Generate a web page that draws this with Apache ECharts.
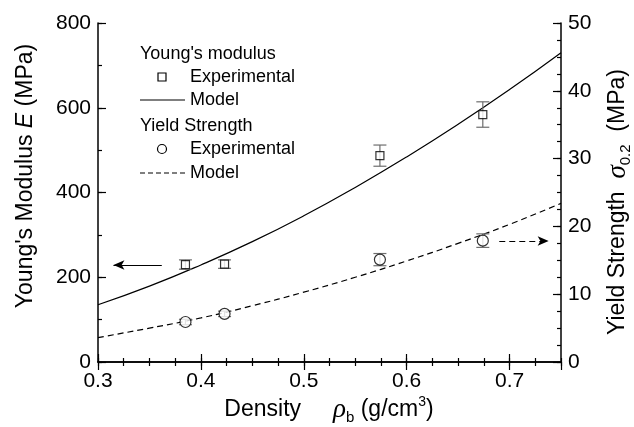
<!DOCTYPE html>
<html>
<head>
<meta charset="utf-8">
<script src="https://cdn.jsdelivr.net/npm/echarts@6/dist/echarts.min.js"></script>
<style>
html,body{margin:0;padding:0;background:#fff;}
#chart{width:634px;height:427px;}
</style>
</head>
<body>
<div id="chart"></div>
<script>
// ---- data ----
const rhoExp = [0.385, 0.423, 0.574, 0.674];
const eExp = [230, 231, 487, 584];
const eErr = [11, 10, 25, 30];
const sigmaExp = [5.9, 7.1, 15.1, 17.9];
const sigmaErr = [0.4, 0.4, 0.9, 1.0];

const rhoModel = [0.30, 0.35, 0.40, 0.45, 0.50, 0.55, 0.60, 0.65, 0.70, 0.75];
const eModel = [135, 179, 229, 284, 345, 412, 484, 561, 643, 730];
const sigmaModel = [3.6, 5.0, 6.5, 8.3, 10.3, 12.5, 14.9, 17.5, 20.3, 23.4];

const arrowE = [[0.362, 229], [0.315, 229]];
const arrowSigma = [[0.690, 17.85], [0.738, 17.85]];

const xTicks = ['0.3', '0.4', '0.5', '0.6', '0.7'];
const eTicks = ['0', '200', '400', '600', '800'];
const sigmaTicks = ['0', '10', '20', '30', '40', '50'];

// ---- chart ----
const FONT = '"Liberation Sans", Arial, Helvetica, sans-serif';
const SERIF = '"Liberation Serif", "DejaVu Serif", serif';
const chart = echarts.init(document.getElementById('chart'), null, {renderer: 'canvas'});

const gridRect = {left: 98, right: 73, top: 23, bottom: 65};
const lineAxis = {show: true, lineStyle: {color: '#000', width: 1.5}};
const lbl = {color: '#000', fontSize: 21, fontFamily: FONT};

function pairs(xs, ys) { return xs.map((x, i) => [x, ys[i]]); }
function triples(xs, ys, es) { return xs.map((x, i) => [x, ys[i], es[i]]); }

function errRender(params, api) {
  const x = api.value(0), y = api.value(1), e = api.value(2);
  const t = api.coord([x, y + e]);
  const b = api.coord([x, y - e]);
  const hw = 6.5;
  const st = {stroke: '#6e6e6e', lineWidth: 1.2};
  return {type: 'group', children: [
    {type: 'line', shape: {x1: t[0], y1: t[1], x2: b[0], y2: b[1]}, style: st},
    {type: 'line', shape: {x1: t[0] - hw, y1: t[1], x2: t[0] + hw, y2: t[1]}, style: st},
    {type: 'line', shape: {x1: b[0] - hw, y1: b[1], x2: b[0] + hw, y2: b[1]}, style: st}
  ]};
}

function fmt(list) { return function (v) { const s = String(+v.toFixed(3)); return list.indexOf(s) >= 0 ? s : ''; }; }

const option = {
  animation: false,
  backgroundColor: '#fff',
  grid: [gridRect, Object.assign({}, gridRect)],
  xAxis: [
    {gridIndex: 0, type: 'value', position: 'bottom', min: 0.3, max: 0.75, interval: 0.1,
      axisLine: lineAxis, axisTick: {inside: true, length: 8, lineStyle: {color: '#000', width: 1.2}},
      axisLabel: Object.assign({margin: 9, showMaxLabel: false, formatter: fmt(xTicks)}, lbl),
      splitLine: {show: false}},
    {gridIndex: 0, type: 'value', position: 'top', min: 0.3, max: 0.75, interval: 0.1,
      axisLine: lineAxis, axisTick: {inside: true, length: 8, lineStyle: {color: '#000', width: 1.2}},
      axisLabel: {show: false}, splitLine: {show: false}},
    {gridIndex: 1, type: 'value', position: 'bottom', min: 0.3, max: 0.75, interval: 0.025,
      axisLine: {show: false}, axisTick: {inside: true, length: 4, lineStyle: {color: '#000', width: 1.2}},
      axisLabel: {show: false}, splitLine: {show: false}},
    {gridIndex: 1, type: 'value', position: 'top', min: 0.3, max: 0.75, interval: 0.025,
      axisLine: {show: false}, axisTick: {inside: true, length: 4, lineStyle: {color: '#000', width: 1.2}},
      axisLabel: {show: false}, splitLine: {show: false}}
  ],
  yAxis: [
    {gridIndex: 0, type: 'value', position: 'left', min: 0, max: 800, interval: 200,
      axisLine: lineAxis, axisTick: {inside: true, length: 8, lineStyle: {color: '#000', width: 1.2}},
      axisLabel: Object.assign({margin: 7, formatter: fmt(eTicks)}, lbl), splitLine: {show: false}},
    {gridIndex: 0, type: 'value', position: 'right', min: 0, max: 50, interval: 10,
      axisLine: lineAxis, axisTick: {inside: true, length: 8, lineStyle: {color: '#000', width: 1.2}},
      axisLabel: Object.assign({margin: 7, formatter: fmt(sigmaTicks)}, lbl), splitLine: {show: false}},
    {gridIndex: 1, type: 'value', position: 'left', min: 0, max: 800, interval: 100,
      axisLine: {show: false}, axisTick: {inside: true, length: 4, lineStyle: {color: '#000', width: 1.2}},
      axisLabel: {show: false}, splitLine: {show: false}},
    {gridIndex: 1, type: 'value', position: 'right', min: 0, max: 50, interval: 2.5,
      axisLine: {show: false}, axisTick: {inside: true, length: 4, lineStyle: {color: '#000', width: 1.2}},
      axisLabel: {show: false}, splitLine: {show: false}}
  ],
  series: [
    {type: 'line', name: 'E model', xAxisIndex: 0, yAxisIndex: 0, data: pairs(rhoModel, eModel),
      smooth: true, showSymbol: false, symbol: 'none', lineStyle: {color: '#000', width: 1.2}, z: 3,
      markLine: {silent: true, symbol: ['none', 'arrow'], symbolSize: [7, 11], animation: false,
        label: {show: false}, lineStyle: {color: '#000', type: 'solid', width: 1.2},
        data: [[{coord: arrowE[0]}, {coord: arrowE[1]}]]}},
    {type: 'line', name: 'sigma model', xAxisIndex: 0, yAxisIndex: 1, data: pairs(rhoModel, sigmaModel),
      smooth: true, showSymbol: false, symbol: 'none', lineStyle: {color: '#000', width: 1.2, type: [6, 4]}, z: 3,
      markLine: {silent: true, symbol: ['none', 'arrow'], symbolSize: [7, 11], animation: false,
        label: {show: false}, lineStyle: {color: '#000', type: [6, 4], width: 1.2},
        data: [[{coord: arrowSigma[0]}, {coord: arrowSigma[1]}]]}},
    {type: 'custom', name: 'E err', xAxisIndex: 0, yAxisIndex: 0, data: triples(rhoExp, eExp, eErr),
      renderItem: errRender, encode: {x: 0, y: [1, 2]}, z: 4},
    {type: 'custom', name: 'sigma err', xAxisIndex: 0, yAxisIndex: 1, data: triples(rhoExp, sigmaExp, sigmaErr),
      renderItem: errRender, encode: {x: 0, y: [1, 2]}, z: 4},
    {type: 'scatter', name: 'E exp', xAxisIndex: 0, yAxisIndex: 0, data: pairs(rhoExp, eExp),
      symbol: 'rect', symbolSize: 8, itemStyle: {color: '#fff', borderColor: '#000', borderWidth: 1.2}, z: 5},
    {type: 'scatter', name: 'sigma exp', xAxisIndex: 0, yAxisIndex: 1, data: pairs(rhoExp, sigmaExp),
      symbol: 'circle', symbolSize: 11, itemStyle: {color: '#fff', borderColor: '#000', borderWidth: 1.2}, z: 5}
  ],
  graphic: [
    // legend
    {type: 'text', left: 140, top: 45, style: {text: "Young's modulus", font: '18px ' + FONT, fill: '#000'}},
    {type: 'rect', shape: {x: 158, y: 73, width: 8, height: 8}, style: {fill: '#fff', stroke: '#000', lineWidth: 1.2}},
    {type: 'text', left: 190, top: 68, style: {text: 'Experimental', font: '18px ' + FONT, fill: '#000'}},
    {type: 'line', shape: {x1: 140, y1: 100, x2: 185, y2: 100}, style: {stroke: '#000', lineWidth: 1.2}},
    {type: 'text', left: 190, top: 91, style: {text: 'Model', font: '18px ' + FONT, fill: '#000'}},
    {type: 'text', left: 140, top: 117, style: {text: 'Yield Strength', font: '18px ' + FONT, fill: '#000'}},
    {type: 'circle', shape: {cx: 162, cy: 149, r: 4.5}, style: {fill: '#fff', stroke: '#000', lineWidth: 1.2}},
    {type: 'text', left: 190, top: 140, style: {text: 'Experimental', font: '18px ' + FONT, fill: '#000'}},
    {type: 'line', shape: {x1: 140, y1: 173, x2: 185, y2: 173}, style: {stroke: '#000', lineWidth: 1.2, lineDash: [5, 3]}},
    {type: 'text', left: 190, top: 164, style: {text: 'Model', font: '18px ' + FONT, fill: '#000'}},
    // axis titles
    {type: 'text', x: 26, y: 176, rotation: Math.PI / 2,
      style: {text: "{a|Young's Modulus }{i|E}{a| (MPa)}", align: 'center', verticalAlign: 'middle',
        rich: {a: {fontSize: 23, fontFamily: FONT, fill: '#000', lineHeight: 28, verticalAlign: 'middle'},
               i: {fontSize: 23, fontFamily: FONT, fontStyle: 'italic', fill: '#000', lineHeight: 28, verticalAlign: 'middle'}}}},
    {type: 'text', x: 618, y: 202, rotation: Math.PI / 2,
      style: {text: '{a|Yield Strength  }{s|σ}{b|0.2}{a|  (MPa)}', align: 'center', verticalAlign: 'middle',
        rich: {a: {fontSize: 23, fontFamily: FONT, fill: '#000', lineHeight: 30, verticalAlign: 'middle'},
               s: {fontSize: 27, fontFamily: SERIF, fontStyle: 'italic', fill: '#000', lineHeight: 30, verticalAlign: 'middle'},
               b: {fontSize: 15, fontFamily: FONT, fill: '#000', lineHeight: 14, verticalAlign: 'bottom'}}}},
    {type: 'text', x: 329, y: 410,
      style: {text: '{a|Density     }{s|ρ}{b|b}{a| (g/cm}{p|3}{a|)}', align: 'center', verticalAlign: 'middle',
        rich: {a: {fontSize: 23, fontFamily: FONT, fill: '#000', lineHeight: 30, verticalAlign: 'middle'},
               s: {fontSize: 27, fontFamily: SERIF, fontStyle: 'italic', fill: '#000', lineHeight: 30, verticalAlign: 'middle'},
               b: {fontSize: 15, fontFamily: FONT, fill: '#000', lineHeight: 14, verticalAlign: 'bottom'},
               p: {fontSize: 14, fontFamily: FONT, fill: '#000', lineHeight: 14, verticalAlign: 'top'}}}}
  ]
};
chart.setOption(option);
</script>
</body>
</html>
